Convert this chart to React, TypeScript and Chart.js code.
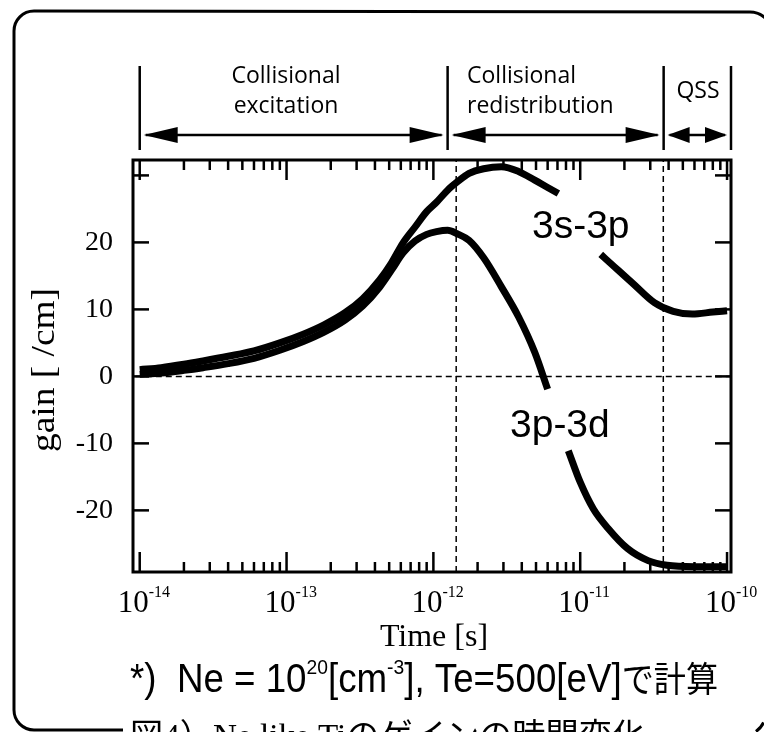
import React, { useEffect, useRef } from 'react';
import { Chart, registerables } from 'chart.js';
Chart.register(...registerables);

// ---- data (time in seconds, gain in 1/cm) ----
const t3s3p = [1e-14, 1.4e-14, 2e-14, 2.7e-14, 4e-14, 6e-14, 9e-14, 1.3e-13, 1.8e-13, 2.5e-13, 3.3e-13, 4.3e-13, 5.2e-13, 6.2e-13, 7.5e-13, 9e-13, 1.05e-12, 1.25e-12, 1.45e-12, 1.75e-12, 2.2e-12, 2.9e-12, 3.8e-12, 4.9e-12, 6e-12, 7.1e-12, 1e-11, 1.38e-11, 1.7e-11, 2.3e-11, 3.2e-11, 4.3e-11, 5.8e-11, 8e-11, 1e-10];
const g3s3p = [1.0, 1.3, 1.8, 2.3, 3.0, 3.8, 5.0, 6.3, 7.7, 9.5, 11.6, 14.4, 17.0, 19.9, 22.3, 24.6, 26.0, 27.8, 29.0, 30.3, 31.0, 31.3, 30.6, 29.3, 28.2, 27.3, null, 18.2, 16.4, 13.8, 11.0, 9.7, 9.3, 9.6, 9.8];
const t3p3d = [1e-14, 1.4e-14, 2e-14, 2.7e-14, 4e-14, 6e-14, 9e-14, 1.3e-13, 1.8e-13, 2.5e-13, 3.3e-13, 4.3e-13, 5.2e-13, 6.2e-13, 7.5e-13, 9e-13, 1.05e-12, 1.25e-12, 1.45e-12, 1.75e-12, 2.2e-12, 2.9e-12, 3.8e-12, 4.9e-12, 6e-12, 7e-12, 8.3e-12, 1e-11, 1.23e-11, 1.55e-11, 2.1e-11, 2.9e-11, 3.9e-11, 6e-11, 1e-10];
const g3p3d = [0.3, 0.5, 0.9, 1.3, 1.9, 2.7, 3.9, 5.2, 6.6, 8.4, 10.5, 13.3, 15.9, 18.4, 20.2, 21.2, 21.6, 21.8, 21.3, 20.3, 17.7, 13.4, 8.9, 3.6, -1.9, null, -11.1, -15.8, -19.8, -22.7, -25.7, -27.5, -28.2, -28.4, -28.4];

const xMin = 9.4e-15;
const xMax = 1.064e-10;
const yMin = -29.2;
const yMax = 32.3;
const yTicks = [-20, -10, 0, 10, 20, 30];
const yTickLabels = ['-20', '-10', '0', '10', '20', ''];
const xDecades = [-14, -13, -12, -11, -10];
const guideTimes = [1.43e-12, 3.68e-11];
const phaseBounds = [1e-14, 1.25e-12, 3.7e-11, 1.064e-10];
const phaseLabels = [['Collisional', 'excitation'], ['Collisional', 'redistribution'], ['QSS']];
const seriesNames = ['3s-3p', '3p-3d'];

const SERIF = '"Liberation Serif", "Times New Roman", serif';

function pts(t: number[], g: (number | null)[]) {
  return t.map((x, i) => ({ x, y: g[i] }));
}

function line(ctx: CanvasRenderingContext2D, x1: number, y1: number, x2: number, y2: number) {
  ctx.beginPath();
  ctx.moveTo(x1, y1);
  ctx.lineTo(x2, y2);
  ctx.stroke();
}

function head(ctx: CanvasRenderingContext2D, tipX: number, y: number, dir: number, len: number, half: number) {
  ctx.beginPath();
  ctx.moveTo(tipX, y);
  ctx.lineTo(tipX - dir * len, y - half);
  ctx.lineTo(tipX - dir * len, y + half);
  ctx.closePath();
  ctx.fill();
}

type Run = { text: string; font: string; dy?: number };
function drawRuns(ctx: CanvasRenderingContext2D, runs: Run[], x: number, y: number, targetW: number) {
  let w = 0;
  for (const r of runs) { ctx.font = r.font; w += ctx.measureText(r.text).width; }
  const s = targetW / w;
  ctx.save();
  ctx.translate(x, y);
  ctx.scale(s, 1);
  ctx.textAlign = 'left';
  ctx.textBaseline = 'alphabetic';
  let cx = 0;
  for (const r of runs) {
    ctx.font = r.font;
    ctx.fillText(r.text, cx, r.dy || 0);
    cx += ctx.measureText(r.text).width;
  }
  ctx.restore();
}

const decorPlugin = {
  id: 'decor',
  afterDraw(chart: any) {
    const { ctx, chartArea: a, scales } = chart;
    const xs = scales.x, ys = scales.y;
    ctx.save();
    ctx.fillStyle = '#000';
    ctx.strokeStyle = '#000';

    // plot frame
    ctx.lineWidth = 3;
    ctx.strokeRect(a.left, a.top, a.right - a.left, a.bottom - a.top);

    // y ticks (inward, both sides)
    ctx.lineWidth = 2.5;
    for (const v of yTicks) {
      const y = ys.getPixelForValue(v);
      line(ctx, a.left, y, a.left + 16, y);
      line(ctx, a.right, y, a.right - 16, y);
    }
    // x ticks (log, inward, top & bottom)
    for (const d of xDecades) {
      for (let k = 1; k <= 9; k++) {
        const t = k * Math.pow(10, d);
        if (t > xs.max || t < xs.min) continue;
        const x = xs.getPixelForValue(t);
        const L = k === 1 ? 20 : 10;
        line(ctx, x, a.bottom, x, a.bottom - L);
        line(ctx, x, a.top, x, a.top + L);
      }
    }

    // x tick labels 10^n
    ctx.textBaseline = 'alphabetic';
    for (const d of xDecades) {
      const x = xs.getPixelForValue(Math.pow(10, d));
      ctx.font = '31px ' + SERIF;
      ctx.textAlign = 'right';
      ctx.fillText('10', x + 9, 612);
      ctx.font = '16px ' + SERIF;
      ctx.textAlign = 'left';
      ctx.fillText(String(d), x + 9, 597);
    }

    // axis titles
    ctx.font = '32px ' + SERIF;
    ctx.textAlign = 'center';
    ctx.fillText('Time [s]', 434, 646);
    ctx.save();
    ctx.translate(54, 370);
    ctx.rotate(-Math.PI / 2);
    ctx.font = '34px ' + SERIF;
    const gl = 'gain [ /cm]';
    const gw = ctx.measureText(gl).width;
    ctx.scale(164 / gw, 1);
    ctx.fillText(gl, 0, 0);
    ctx.restore();

    // phase annotation above the plot
    ctx.lineWidth = 2.5;
    const bx = phaseBounds.map((t) => xs.getPixelForValue(t));
    for (const x of bx) line(ctx, x, 66, x, 150);
    const ay = 135;
    for (let i = 0; i < bx.length - 1; i++) {
      const l = bx[i], r = bx[i + 1];
      const len = r - l > 120 ? 34 : 22;
      line(ctx, l + 6, ay, r - 6, ay);
      head(ctx, l + 4, ay, -1, len, 8);
      head(ctx, r - 4, ay, 1, len, 8);
    }
    ctx.font = '23px "Open Sans", "DejaVu Sans", sans-serif';
    ctx.textAlign = 'center';
    ctx.fillText(phaseLabels[0][0], 286, 83);
    ctx.fillText(phaseLabels[0][1], 286, 113);
    ctx.textAlign = 'left';
    ctx.fillText(phaseLabels[1][0], 467, 83);
    ctx.fillText(phaseLabels[1][1], 467, 113);
    ctx.textAlign = 'center';
    ctx.fillText(phaseLabels[2][0], 698, 98);

    // curve labels
    ctx.font = '39px "Liberation Sans", Arial, sans-serif';
    ctx.textAlign = 'left';
    ctx.fillText(seriesNames[0], 532, 238);
    ctx.fillText(seriesNames[1], 510, 437);

    // footnote
    const big = '40px "Liberation Sans", "Noto Sans CJK JP", sans-serif';
    const sup = '21px "Liberation Sans", sans-serif';
    drawRuns(ctx, [
      { text: '*)  Ne = 10', font: big },
      { text: '20', font: sup, dy: -18 },
      { text: '[cm', font: big },
      { text: '-3', font: sup, dy: -18 },
      { text: '], Te=500[eV]', font: big },
      { text: 'で計算', font: '35px "Noto Sans CJK JP", sans-serif' },
    ], 130, 692, 588);

    // caption (cut by page bottom)
    drawRuns(ctx, [
      { text: '図4）Ne like Tiのゲインの時間変化', font: '33px "Liberation Serif", "Noto Sans CJK JP", serif' },
    ], 130, 747, 515);

    // rounded frame of the figure
    ctx.lineWidth = 3;
    const r = 20;
    ctx.beginPath();
    ctx.moveTo(123, 730);
    ctx.lineTo(14 + r, 730);
    ctx.arcTo(14, 730, 14, 730 - r, r);
    ctx.lineTo(14, 11 + r);
    ctx.arcTo(14, 11, 14 + r, 11, r);
    ctx.lineTo(750, 12);
    ctx.arc(750, 34, 22, -Math.PI / 2, -0.1);
    ctx.stroke();
    ctx.beginPath();
    ctx.arc(742, 712, 24, 0.95, 0.45, true);
    ctx.stroke();

    ctx.restore();
  },
};

export default function App() {
  const ref = useRef<HTMLCanvasElement>(null);
  useEffect(() => {
    const chart = new Chart(ref.current as HTMLCanvasElement, {
      type: 'line',
      data: {
        datasets: [
          {
            label: seriesNames[0],
            data: pts(t3s3p, g3s3p),
            borderColor: '#000',
            borderWidth: 7,
            pointRadius: 0,
            cubicInterpolationMode: 'monotone',
            spanGaps: false,
            borderCapStyle: 'butt',
          },
          {
            label: seriesNames[1],
            data: pts(t3p3d, g3p3d),
            borderColor: '#000',
            borderWidth: 7,
            pointRadius: 0,
            cubicInterpolationMode: 'monotone',
            spanGaps: false,
            borderCapStyle: 'butt',
          },
          {
            label: 'zero',
            data: [{ x: xMin, y: 0 }, { x: xMax, y: 0 }],
            borderColor: '#000',
            borderWidth: 1.5,
            borderDash: [6, 4],
            pointRadius: 0,
          },
          ...guideTimes.map((t) => ({
            label: 'guide',
            data: [{ x: t, y: yMin }, { x: t, y: yMax }],
            borderColor: '#000',
            borderWidth: 1.5,
            borderDash: [6, 4],
            pointRadius: 0,
          })),
        ],
      } as any,
      options: {
        responsive: false,
        animation: false,
        devicePixelRatio: 1,
        parsing: true,
        layout: { padding: { top: 160, right: 33, left: 0, bottom: 0 } },
        plugins: { legend: { display: false }, tooltip: { enabled: false }, title: { display: false } },
        scales: {
          x: {
            type: 'logarithmic',
            min: xMin,
            max: xMax,
            ticks: { display: false },
            grid: { display: false },
            border: { display: false },
            afterFit: (s: any) => { s.height = 160; },
          },
          y: {
            type: 'linear',
            min: yMin,
            max: yMax,
            afterBuildTicks: (s: any) => { s.ticks = yTicks.map((v) => ({ value: v })); },
            ticks: {
              color: '#000',
              font: { family: '"Liberation Serif", serif', size: 28 },
              padding: 20,
              callback: (v: any) => yTickLabels[yTicks.indexOf(Number(v))] ?? '',
            },
            grid: { display: false, drawTicks: false },
            border: { display: false },
            afterFit: (s: any) => { s.width = 133; },
          },
        },
      } as any,
      plugins: [decorPlugin],
    });
    return () => chart.destroy();
  }, []);
  return (
    <div style={{ position: 'absolute', left: 0, top: 0, width: 764, height: 732, background: '#fff', overflow: 'hidden' }}>
      <canvas ref={ref} width={764} height={732} style={{ display: 'block' }} />
    </div>
  );
}
